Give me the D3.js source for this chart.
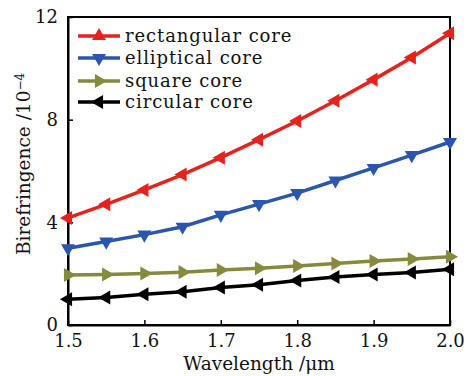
<!DOCTYPE html>
<html>
<head>
<meta charset="utf-8">
<script src="https://cdn.jsdelivr.net/npm/d3@7"></script>
<style>
  body { margin: 0; background: #fff; }
  svg text { font-family: "DejaVu Serif", "Liberation Serif", serif; fill: #111; }
</style>
</head>
<body>
<svg id="chart" width="467" height="376"></svg>
<script>
"use strict";

// wavelength samples (um)
const wavelengths = [1.5, 1.55, 1.6, 1.65, 1.7, 1.75, 1.8, 1.85, 1.9, 1.95, 2.0];

// birefringence, units of 1e-4
const rectangular = [4.17, 4.70, 5.26, 5.86, 6.52, 7.22, 7.95, 8.74, 9.56, 10.42, 11.37];
const elliptical = [2.99, 3.25, 3.52, 3.83, 4.29, 4.71, 5.14, 5.63, 6.12, 6.62, 7.13];
const square = [1.95, 1.97, 2.01, 2.06, 2.14, 2.21, 2.30, 2.40, 2.49, 2.57, 2.66];
const circular = [1.00, 1.07, 1.20, 1.30, 1.46, 1.57, 1.73, 1.87, 1.97, 2.05, 2.17];

const xTicks = [1.5, 1.6, 1.7, 1.8, 1.9, 2.0];
const yTicks = [0, 4, 8, 12];

const series = [
  { name: "rectangular core", values: rectangular, color: "#e5231e", legendRot: 0, lineRot: -90 },
  { name: "elliptical core", values: elliptical, color: "#2b56b0", legendRot: 180, lineRot: 180 },
  { name: "square core", values: square, color: "#868a3c", legendRot: 90, lineRot: 90 },
  { name: "circular core", values: circular, color: "#000000", legendRot: -90, lineRot: -90 }
];

const W = 467, H = 376;
const margin = { top: 17, right: 17, bottom: 51, left: 68 };
const width = W - margin.left - margin.right;
const height = H - margin.top - margin.bottom;

const svg = d3.select("#chart");
const chart = svg.append("g")
  .attr("transform", `translate(${margin.left},${margin.top})`);

const x = d3.scaleLinear().domain([1.5, 2.0]).range([0, width]);
const y = d3.scaleLinear().domain([0, 12]).range([height, 0]);

// frame
chart.append("rect")
  .attr("x", 0).attr("y", 0)
  .attr("width", width).attr("height", height)
  .attr("fill", "none")
  .attr("stroke", "#000")
  .attr("stroke-width", 2);

// axes, ticks pointing inward
const xAxis = d3.axisBottom(x)
  .tickValues(xTicks)
  .tickFormat(d3.format(".1f"))
  .tickSizeInner(-5)
  .tickSizeOuter(0)
  .tickPadding(9);

const yAxis = d3.axisLeft(y)
  .tickValues(yTicks)
  .tickFormat(d3.format("d"))
  .tickSizeInner(-5)
  .tickSizeOuter(0)
  .tickPadding(10);

const gx = chart.append("g")
  .attr("transform", `translate(0,${height})`)
  .call(xAxis);
const gy = chart.append("g").call(yAxis);

[gx, gy].forEach(g => {
  g.select(".domain").attr("stroke", "#000").attr("stroke-width", 2);
  g.selectAll(".tick line").attr("stroke", "#000").attr("stroke-width", 1.5);
  g.selectAll(".tick text")
    .style("font-family", '"DejaVu Serif", serif')
    .style("font-size", "18px")
    .attr("fill", "#111");
});
gx.selectAll(".tick text").attr("dy", "0.72em");

// lines
const line = d3.line()
  .x((d, i) => x(wavelengths[i]))
  .y(d => y(d));

const tri = d3.symbol().type(d3.symbolTriangle).size(85);

series.forEach(s => {
  chart.append("path")
    .datum(s.values)
    .attr("fill", "none")
    .attr("stroke", s.color)
    .attr("stroke-width", 3.5)
    .attr("d", line);

  chart.append("g")
    .selectAll("path")
    .data(s.values)
    .join("path")
    .attr("d", tri)
    .attr("fill", s.color)
    .attr("transform", (d, i) => `translate(${x(wavelengths[i])},${y(d)}) rotate(${s.lineRot})`);
});

// legend
const legend = chart.append("g").attr("transform", "translate(10,19)");
const rowY = [0, 22, 45, 66];
series.forEach((s, i) => {
  const row = legend.append("g").attr("transform", `translate(0,${rowY[i]})`);
  row.append("line")
    .attr("x1", 0).attr("x2", 42)
    .attr("y1", 0).attr("y2", 0)
    .attr("stroke", s.color)
    .attr("stroke-width", 3.5);
  row.append("path")
    .attr("d", tri)
    .attr("fill", s.color)
    .attr("transform", `translate(21,0) rotate(${s.legendRot})`);
  row.append("text")
    .attr("x", 47)
    .attr("y", 0)
    .attr("dy", "0.35em")
    .style("font-size", "18px")
    .style("letter-spacing", "0.9px")
    .text(s.name);
});

// axis titles
svg.append("text")
  .attr("x", margin.left + width / 2)
  .attr("y", 370)
  .attr("text-anchor", "middle")
  .style("font-size", "18.5px")
  .text("Wavelength /\u03bcm");

const yTitle = svg.append("text")
  .attr("transform", "translate(30,164) rotate(-90)")
  .attr("text-anchor", "middle")
  .style("font-size", "18.5px");
yTitle.append("tspan").text("Birefringence /10");
yTitle.append("tspan")
  .attr("dy", "-0.5em")
  .style("font-size", "12px")
  .text("\u22124");
</script>
</body>
</html>
